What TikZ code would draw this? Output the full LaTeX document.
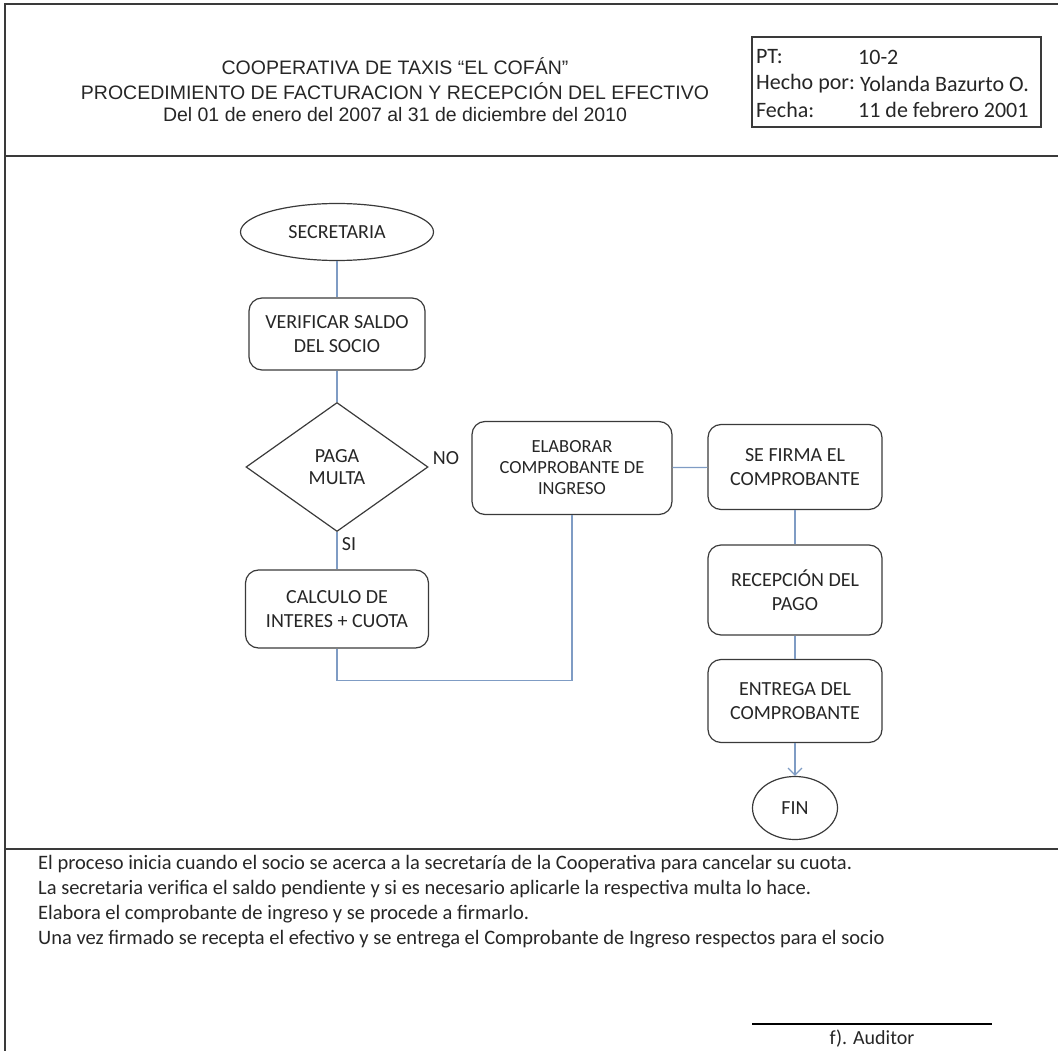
\documentclass[tikz,border=0pt]{standalone}
\usepackage{fontspec}
\setmainfont{Carlito}
\newfontfamily\arialfont{Liberation Sans}
\usetikzlibrary{shapes.geometric,arrows.meta}
\definecolor{linea}{HTML}{7F9CC4}
\definecolor{borde}{HTML}{3A3A3A}
\definecolor{texto}{HTML}{262626}
\tikzset{
  caja/.style={draw=borde,line width=1.2pt,rounded corners=13pt,align=center,text=texto,
    minimum width=176pt,minimum height=80pt,font=\fontsize{20}{24}\selectfont},
  elipse/.style={draw=borde,line width=1.2pt,ellipse,text=texto,font=\fontsize{20}{24}\selectfont},
  rombo/.style={draw=borde,line width=1.2pt,diamond,aspect=1.41,text=texto,align=center,
    inner sep=0pt,minimum width=182pt,minimum height=129pt,font=\fontsize{20}{22}\selectfont},
  flujo/.style={draw=linea,line width=1.2pt},
  rotulo/.style={text=texto,font=\fontsize{20}{24}\selectfont},
  parrafo/.style={anchor=west,text=texto,inner sep=0pt,font=\fontsize{20.5}{24}\selectfont},
  marco/.style={draw=borde,line width=2pt}
}
\begin{document}
\begin{tikzpicture}[x=1pt,y=-1pt]
\def\izq{5}
\def\der{1058}
\def\cab{156}
\def\pie{849}
\useasboundingbox (0,0) rectangle (1058,1051);
% marco de la hoja
\draw[marco] (\izq,1051)--(\izq,4)--(\der,4);
\draw[marco] (\izq,\cab)--(\der,\cab);
\draw[marco] (\izq,\pie)--(\der,\pie);
% encabezado
\begin{scope}[font=\arialfont\fontsize{19.5}{22}\selectfont,text=texto]
\node (tit1) at (395,66) {COOPERATIVA DE TAXIS “EL COFÁN”};
\node (tit2) at (395,91) {PROCEDIMIENTO DE FACTURACION Y RECEPCIÓN DEL EFECTIVO};
\node (tit3) at (395,115) {Del 01 de enero del 2007 al 31 de diciembre del 2010};
\end{scope}
\draw[line width=1.5pt,borde] (752,37) rectangle (1041,127);
\begin{scope}[font=\fontsize{22}{24}\selectfont,text=texto,anchor=west,inner sep=0pt]
\node (pt) at (756,57) {PT:};
\node (ptv) at (858,57) {10-2};
\node (hecho) at (756,84) {Hecho por:};
\node (hechov) at (860,84) {Yolanda Bazurto O.};
\node (fecha) at (756,110) {Fecha:};
\node (fechav) at (858,110) {11 de febrero 2001};
\end{scope}
% diagrama
\node[elipse,minimum width=193pt,minimum height=57pt] (sec) at (337,232) {SECRETARIA};
\node[caja,minimum height=72pt] (verif) at (337,334) {VERIFICAR SALDO\\DEL SOCIO};
\node[rombo] (paga) at (337,467) {PAGA\\MULTA};
\node[caja,minimum width=183pt,minimum height=78pt] (calc) at (337,609) {CALCULO DE\\INTERES + CUOTA};
\node[caja,minimum width=200pt,minimum height=93pt,font=\fontsize{18.5}{21}\selectfont] (elab) at (572,468) {ELABORAR\\COMPROBANTE DE\\INGRESO};
\node[caja,minimum width=174pt,minimum height=85pt] (firma) at (795,467) {SE FIRMA EL\\COMPROBANTE};
\node[caja,minimum width=174pt,minimum height=90pt] (recep) at (795,590) {RECEPCIÓN DEL\\PAGO};
\node[caja,minimum width=174pt,minimum height=83pt] (entrega) at (795,701) {ENTREGA DEL\\COMPROBANTE};
\node[elipse,minimum width=85pt,minimum height=63pt] (fin) at (795,808) {FIN};
\node[rotulo] (no) at (446,458) {NO};
\node[rotulo] (si) at (349,544) {SI};
\draw[flujo] (sec)--(verif);
\draw[flujo] (verif)--(paga);
\draw[flujo] (paga)--(calc);
\draw[flujo] (calc.south)--++(0,32)-|(elab.south);
\draw[flujo] (elab)--(firma);
\draw[flujo] (firma)--(recep);
\draw[flujo] (recep)--(entrega);
\draw[flujo,-{Straight Barb[length=7pt,width=14pt]}] (entrega)--(fin);
% descripcion
\node[parrafo] (l1) at (38,864) {El proceso inicia cuando el socio se acerca a la secretaría de la Cooperativa para cancelar su cuota.};
\node[parrafo] (l2) at (38,889) {La secretaria verifica el saldo pendiente y si es necesario aplicarle la respectiva multa lo hace.};
\node[parrafo] (l3) at (38,914) {Elabora el comprobante de ingreso y se procede a firmarlo.};
\node[parrafo] (l4) at (38,939) {Una vez firmado se recepta el efectivo y se entrega el Comprobante de Ingreso respectos para el socio};
% firma del auditor
\draw[line width=1.5pt,black] (752,1024)--(992,1024);
\node[text=texto,font=\fontsize{20}{22}\selectfont,inner sep=1pt] (aud) at (872,1039) {f). Auditor};
\end{tikzpicture}
\end{document}
